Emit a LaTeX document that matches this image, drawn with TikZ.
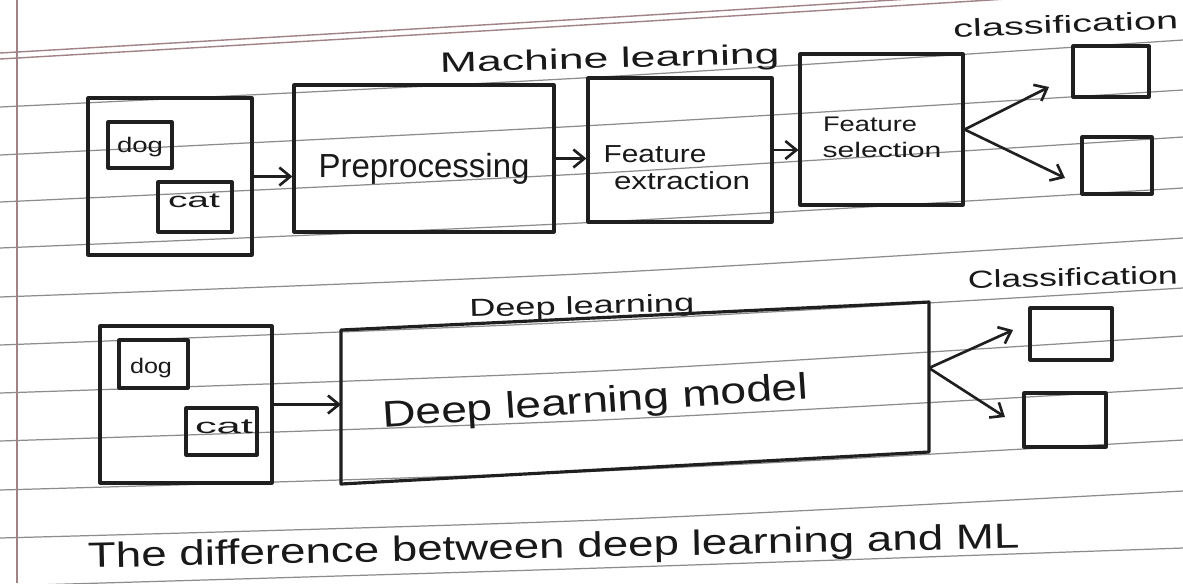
\documentclass[tikz,border=0pt]{standalone}
\usepackage{fontspec}
\usepackage{graphicx}
\setmainfont{Liberation Sans}
\usetikzlibrary{arrows.meta,fit,calc}
\newcommand\hw[2]{\resizebox{#1}{\height}{#2}}
\begin{document}
\begin{tikzpicture}[x=0.02cm,y=-0.02cm,
  ink/.style={draw=black!88, line width=1.8pt, line join=round},
  frame/.style={ink, inner sep=0pt},
  lbl/.style={inner sep=0pt, anchor=base, text=black!90},
  arr/.style={draw=black!88, line width=1.5pt, -{Straight Barb[length=2.2mm,width=3.6mm,line width=1.5pt]}},
  rule/.style={draw=black!45, line width=0.7pt},
  pinkrule/.style={draw={rgb,255:red,160;green,130;blue,135}, line width=0.8pt},
  fa/.style={font=\fontsize{12}{14}\selectfont},
  fb/.style={font=\fontsize{14}{16}\selectfont},
  fc/.style={font=\fontsize{16}{18}\selectfont},
  fd/.style={font=\fontsize{19}{22}\selectfont},
]
\fill[white] (0,0) rectangle (1183,583);
\useasboundingbox (0,0) rectangle (1183,583);

% ruled paper
\foreach \a/\b/\c in {107/77/40, 155/125/90, 202/173/137, 248/222/188, 297/273/238, 345/321/288, 393/371/336, 441/420/388, 490/471/440, 538/520/491, 586/568/548}
  \draw[rule] plot[smooth] coordinates {(0,\a) (600,\b) (1183,\c)};
\draw[pinkrule] plot[smooth] coordinates {(0,53) (600,18) (1183,-18)};
\draw[pinkrule] plot[smooth] coordinates {(0,59) (600,24) (1183,-12)};
\draw[pinkrule] (17,0) -- (17,583);

% ---------- Machine learning ----------
\node[lbl, fc, rotate=1.5] (tML) at (610,68) {\hw{6.8cm}{Machine learning}};
\node[lbl, fb, rotate=2.3] (tClsA) at (1066,33) {\hw{4.5cm}{classification}};

\node[frame, fit={(88,98) (252,255)}] (inA) {};
\node[frame, fit={(108,122) (172,168)}] (dogA) {};
\node[frame, fit={(158,182) (232,232)}] (catA) {};
\node[lbl, fa] (dogAt) at (140,152) {\hw{0.92cm}{dog}};
\node[lbl, fa] (catAt) at (194,207) {\hw{1.04cm}{cat}};

\node[frame, fit={(294,85) (554,232)}] (pre) {};
\node[lbl, fd] (preT) at (424,177) {\hw{4.22cm}{Preprocessing}};

\node[frame, fit={(588,78) (772,222)}] (fext) {};
\node[lbl, fb] (fextT1) at (655,162) {\hw{2.06cm}{Feature}};
\node[lbl, fb] (fextT2) at (682,189) {\hw{2.72cm}{extraction}};

\node[frame, fit={(800,54) (963,205)}] (fsel) {};
\node[lbl, fa] (fselT1) at (870,131) {\hw{1.88cm}{Feature}};
\node[lbl, fa] (fselT2) at (882,157) {\hw{2.38cm}{selection}};

\node[frame, fit={(1073,46) (1149,97)}] (clsA1) {};
\node[frame, fit={(1082,137) (1152,194)}] (clsA2) {};

\coordinate (tA1) at (1049,87);
\coordinate (tA2) at (1065,178);

\draw[arr] (inA.east) -- (inA.east -| pre.west);
\draw[arr] (pre.east) -- (pre.east -| fext.west);
\draw[arr] (fext.east) -- (fext.east -| fsel.west);
\draw[arr] (fsel.east) -- (tA1);
\draw[arr] (fsel.east) -- (tA2);

% ---------- Deep learning ----------
\node[lbl, fb, rotate=1.5] (tDL) at (582,314) {\hw{4.5cm}{Deep learning}};
\node[lbl, fb, rotate=1.3] (tClsB) at (1073,286) {\hw{4.2cm}{Classification}};

\node[frame, fit={(100,326) (272,483)}] (inB) {};
\node[frame, fit={(119,340) (188,388)}] (dogB) {};
\node[frame, fit={(186,408) (257,455)}] (catB) {};
\node[lbl, fa] (dogBt) at (151,373) {\hw{0.84cm}{dog}};
\node[lbl, fa] (catBt) at (224,433) {\hw{1.16cm}{cat}};

% slanted model box
\coordinate (mNW) at (341,330);
\coordinate (mNE) at (929,302);
\coordinate (mSE) at (929,452);
\coordinate (mSW) at (341,484);
\draw[ink] (mNW) -- (mNE) -- (mSE) -- (mSW) -- cycle;
\node[lbl, font=\fontsize{21}{24}\selectfont, rotate=3.8] (modelT) at (596,413) {\hw{8.54cm}{Deep learning model}};

\node[frame, fit={(1030,308) (1112,360)}] (clsB1) {};
\node[frame, fit={(1024,393) (1106,447)}] (clsB2) {};

\coordinate (forkB) at ($(mNE)!0.44!(mSE)$);
\coordinate (tB1) at (1013,330);
\coordinate (tB2) at (1005,417);

\draw[arr] (inB.east) -- (inB.east -| mNW);
\draw[arr] (forkB) -- (tB1);
\draw[arr] (forkB) -- (tB2);

% ---------- caption ----------
\node[lbl, font=\fontsize{20}{24}\selectfont, rotate=1.2] (cap) at (554,558) {\hw{18.64cm}{The difference between deep learning and ML}};
\end{tikzpicture}
\end{document}
